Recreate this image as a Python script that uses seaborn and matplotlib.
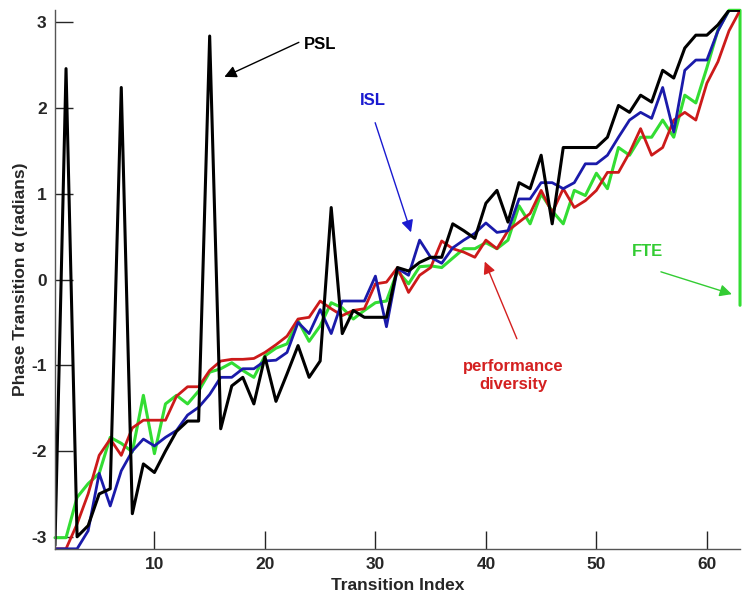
import matplotlib
matplotlib.use("Agg")
import matplotlib.pyplot as plt
import numpy as np
import seaborn as sns

# phase transition per index
psl = [-3.10, 2.46, -3.00, -2.87, -2.50, -2.44, 2.24, -2.73, -2.15, -2.25,
       -2.00, -1.77, -1.65, -1.65, 2.84, -1.74, -1.24, -1.14, -1.45, -0.90,
       -1.42, -1.10, -0.77, -1.14, -0.95, 0.84, -0.63, -0.36, -0.44, -0.44,
       -0.44, 0.14, 0.10, 0.20, 0.26, 0.26, 0.65, 0.57, 0.48, 0.89,
       1.04, 0.67, 1.13, 1.06, 1.45, 0.65, 1.54, 1.54, 1.54, 1.54,
       1.66, 2.03, 1.95, 2.15, 2.07, 2.44, 2.35, 2.70, 2.85, 2.85,
       2.97, 3.14, 3.14]
isl = [-3.14, -3.14, -3.14, -2.93, -2.26, -2.64, -2.23, -2.00, -1.86, -1.94,
       -1.84, -1.76, -1.58, -1.49, -1.34, -1.14, -1.14, -1.04, -1.04, -0.95,
       -0.94, -0.85, -0.50, -0.63, -0.35, -0.63, -0.25, -0.25, -0.25, 0.04,
       -0.55, 0.13, 0.05, 0.46, 0.26, 0.19, 0.37, 0.46, 0.54, 0.66,
       0.55, 0.57, 0.94, 0.94, 1.13, 1.13, 1.06, 1.13, 1.35, 1.35,
       1.45, 1.66, 1.86, 1.95, 1.88, 2.24, 1.72, 2.44, 2.56, 2.56,
       2.90, 3.14, 3.14]
perf_div = [-3.14, -3.14, -2.85, -2.50, -2.05, -1.86, -2.05, -1.73, -1.64, -1.64,
            -1.64, -1.36, -1.25, -1.25, -1.06, -0.95, -0.93, -0.93, -0.92, -0.85,
            -0.76, -0.66, -0.46, -0.44, -0.25, -0.34, -0.42, -0.36, -0.34, -0.05,
            -0.03, 0.14, -0.15, 0.05, 0.14, 0.45, 0.36, 0.32, 0.26, 0.46,
            0.36, 0.57, 0.67, 0.77, 1.04, 0.78, 1.06, 0.84, 0.92, 1.04,
            1.25, 1.25, 1.48, 1.76, 1.45, 1.54, 1.86, 1.95, 1.86, 2.29,
            2.54, 2.90, 3.14]
fte = [-3.01, -3.01, -2.54, -2.38, -2.26, -1.84, -1.91, -2.01, -1.35, -2.03,
       -1.45, -1.35, -1.45, -1.30, -1.08, -1.04, -0.97, -1.06, -1.14, -0.89,
       -0.80, -0.75, -0.48, -0.72, -0.54, -0.27, -0.33, -0.46, -0.36, -0.27,
       -0.25, 0.10, -0.05, 0.15, 0.16, 0.14, 0.25, 0.36, 0.36, 0.43,
       0.36, 0.46, 0.86, 0.65, 1.00, 0.80, 0.65, 1.04, 0.98, 1.24,
       1.06, 1.54, 1.45, 1.66, 1.66, 1.86, 1.66, 2.15, 2.06, 2.47,
       2.91, 3.14, 3.14]
fte_wrap = -0.30  # FTE phase wraps at the last index

idx = np.arange(1, len(psl) + 1)
x_ticks = [10, 20, 30, 40, 50, 60]
y_ticks = [-3, -2, -1, 0, 1, 2, 3]

sns.set_style("white")
plt.rcParams["font.family"] = ["Liberation Sans", "DejaVu Sans"]
plt.rcParams["axes.unicode_minus"] = False

fig = plt.figure(figsize=(7.43, 5.98), dpi=100)
ax = fig.add_axes([0.074, 0.082, 0.922, 0.901])

fte_x = np.append(idx, idx[-1])
fte_y = np.append(fte, fte_wrap)
sns.lineplot(x=fte_x, y=fte_y, color="#33dd33", lw=2.2, estimator=None, sort=False, ax=ax)
ax.lines[-1].set_clip_on(False)
sns.lineplot(x=idx, y=perf_div, color="#cc1a1a", lw=2.0, estimator=None, ax=ax)
sns.lineplot(x=idx, y=isl, color="#1a1aaa", lw=2.0, estimator=None, ax=ax)
sns.lineplot(x=idx, y=psl, color="black", lw=2.2, estimator=None, ax=ax)

ax.set_xlim(1, 63)
ax.set_ylim(-np.pi, np.pi)
ax.set_xticks(x_ticks)
ax.set_yticks(y_ticks)
ax.tick_params(direction="in", length=13, width=1, labelsize=12.5, pad=6,
               left=True, bottom=True)
for lbl in ax.get_xticklabels() + ax.get_yticklabels():
    lbl.set_fontweight("bold")
sns.despine(ax=ax)
for side in ["left", "bottom"]:
    ax.spines[side].set_color("#555555")
    ax.spines[side].set_linewidth(1.0)

ax.set_xlabel("Transition Index", fontsize=12.5, fontweight="bold", labelpad=4)
ax.set_ylabel("Phase Transition \u03b1 (radians)", fontsize=12.5, fontweight="bold", labelpad=2)

# callouts
ax.annotate("", xy=(16.1, 2.35), xytext=(23.3, 2.78),
            arrowprops=dict(arrowstyle="-|>", color="black", lw=1, mutation_scale=18))
ax.text(25.0, 2.74, "PSL", color="black", fontsize=12, fontweight="bold", ha="center", va="center")

ax.annotate("", xy=(33.3, 0.52), xytext=(29.9, 1.86),
            arrowprops=dict(arrowstyle="-|>", color="#1a1ad0", lw=1, mutation_scale=18))
ax.text(29.8, 2.09, "ISL", color="#1a1ad0", fontsize=12, fontweight="bold", ha="center", va="center")

ax.annotate("", xy=(39.8, 0.24), xytext=(42.9, -0.72),
            arrowprops=dict(arrowstyle="-|>", color="#d42020", lw=1, mutation_scale=18))
ax.text(42.5, -1.12, "performance\ndiversity", color="#d42020", fontsize=12,
        fontweight="bold", ha="center", va="center", linespacing=1.25)

ax.annotate("", xy=(62.5, -0.18), xytext=(55.6, 0.10),
            arrowprops=dict(arrowstyle="-|>", color="#33cc33", lw=1, mutation_scale=18))
ax.text(54.6, 0.33, "FTE", color="#33cc33", fontsize=12, fontweight="bold", ha="center", va="center")

fig.savefig("out.png", dpi=100)
plt.close(fig)
